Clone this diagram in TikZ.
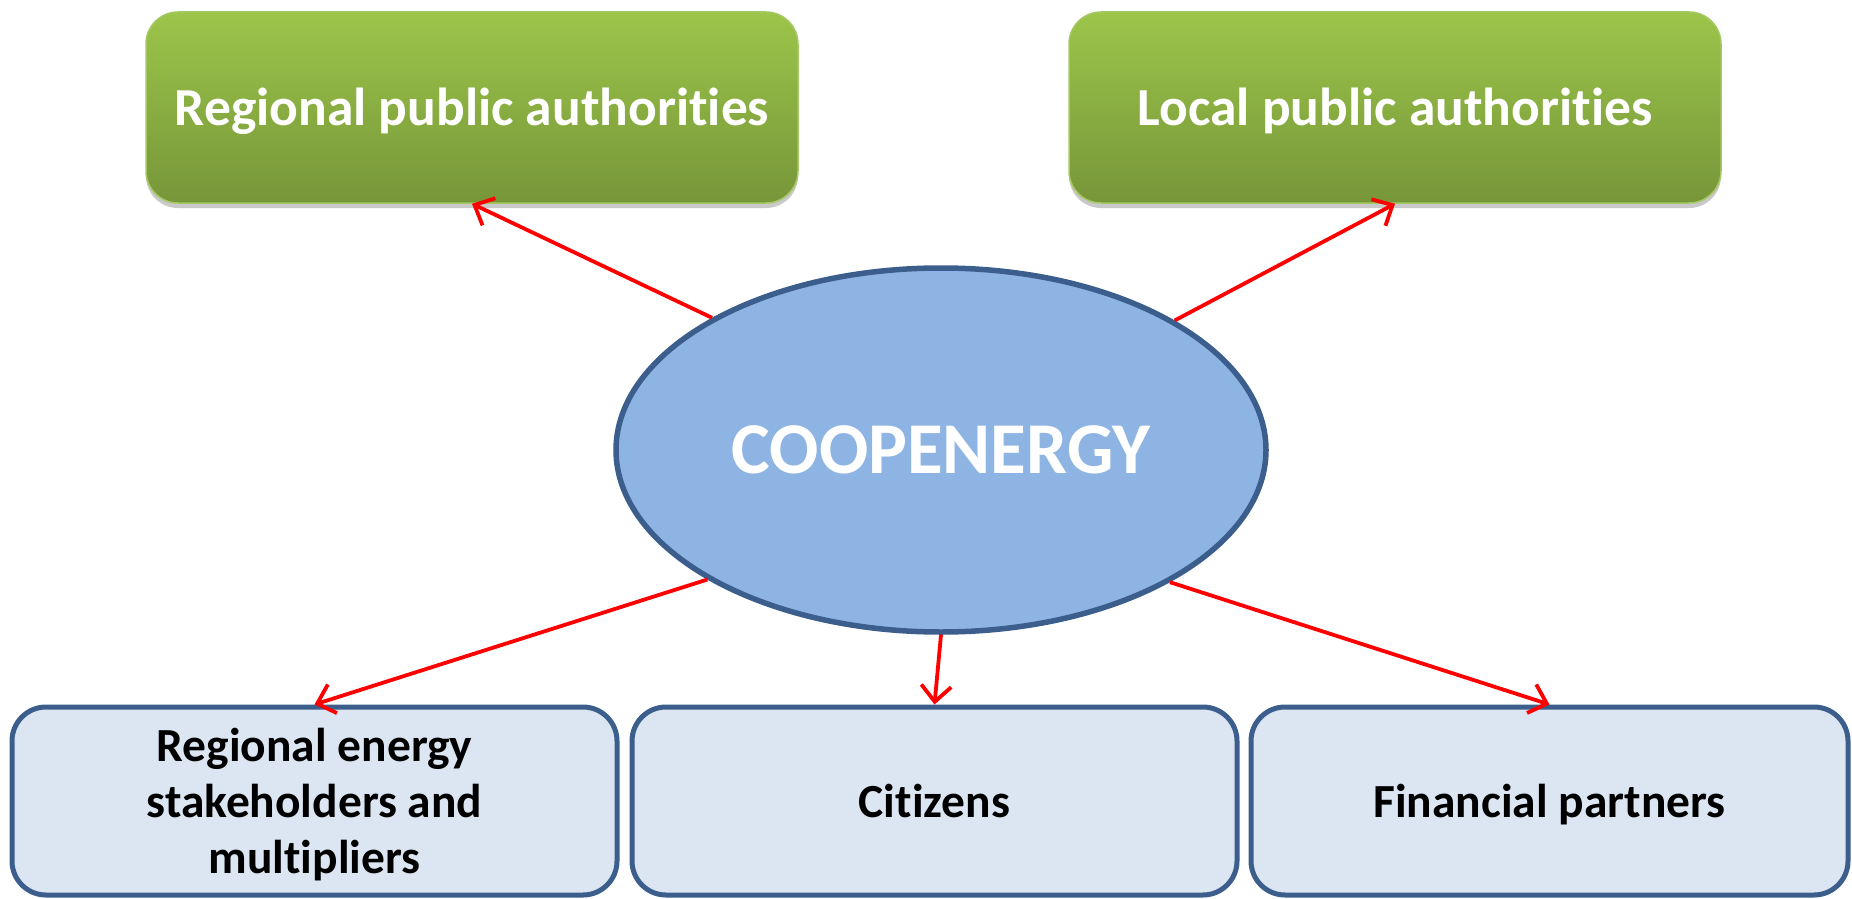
\documentclass[tikz,border=0pt]{standalone}
\usepackage{fontspec}
\setmainfont[Ligatures=NoCommon]{Carlito}
\usetikzlibrary{shapes.geometric,arrows.meta,shadows}
\definecolor{gtop}{RGB}{156,197,74}
\definecolor{gbot}{RGB}{119,150,57}
\definecolor{gedge}{RGB}{165,200,100}
\definecolor{ellfill}{RGB}{142,180,227}
\definecolor{edgeblue}{RGB}{59,94,140}
\definecolor{boxfill}{RGB}{220,230,242}
\newcommand{\lowtext}[2]{\raisebox{#1}[\height][\depth]{\begin{tabular}{@{}c@{}}#2\end{tabular}}}
\tikzset{
  greenbox/.style={rectangle, rounded corners=32pt, minimum width=652pt, minimum height=191pt,
    top color=gtop, bottom color=gbot, draw=gedge, line width=1.5pt,
    drop shadow={shadow xshift=0pt, shadow yshift=-5pt, opacity=0.35, fill=black!60},
    text=white, font=\bfseries\fontsize{53.5}{64}\selectfont, inner sep=0pt},
  bluebox/.style={rectangle, rounded corners=34pt, minimum height=188pt,
    fill=boxfill, draw=edgeblue, line width=5pt,
    font=\bfseries\fontsize{47.5}{56}\selectfont, inner sep=0pt},
  hub/.style={ellipse, minimum width=650pt, minimum height=364pt, fill=ellfill,
    draw=edgeblue, line width=5.5pt, text=white, inner sep=0pt,
    font=\bfseries\fontsize{73}{88}\selectfont},
  link/.style={draw=red, line width=3.8pt, -{Straight Barb[length=16pt,width=30pt,line width=3.8pt]}}
}
\begin{document}
\begin{tikzpicture}[x=1pt,y=-1pt]
\useasboundingbox[fill=white] (0,0) rectangle (1852,899);
\node[greenbox] (rpa) at (472,107.5) {\lowtext{-5pt}{Regional public authorities}};
\node[greenbox] (lpa) at (1395,107.5) {\lowtext{-5pt}{Local public authorities}};
\node[hub] (coop) at (941,450) {COOPENERGY};
\node[bluebox, minimum width=605pt] (res) at (314.5,801) {\lowtext{-5pt}{Regional energy\\stakeholders and\\multipliers}};
\node[bluebox, minimum width=605pt] (cit) at (934.5,801) {\lowtext{-5pt}{Citizens}};
\node[bluebox, minimum width=597pt] (fin) at (1549.5,801) {\lowtext{-5pt}{Financial partners}};
\draw[link] (coop.150.6) -- (rpa.south);
\draw[link] (coop.29.4) -- (lpa.south);
\draw[link] (coop.209.4) -- (res.north);
\draw[link] (coop.south) -- (cit.north);
\draw[link] (coop.330.6) -- (fin.north);
\end{tikzpicture}
\end{document}
